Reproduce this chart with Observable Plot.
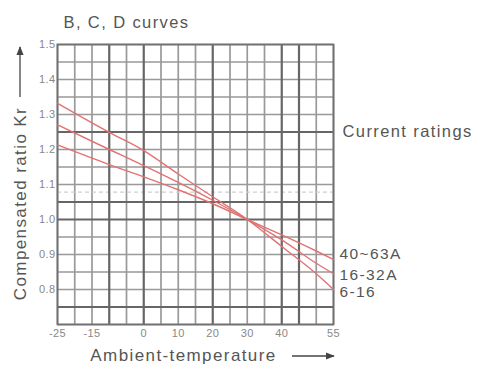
<!DOCTYPE html>
<html>
<head>
<meta charset="utf-8">
<script src="https://cdn.jsdelivr.net/npm/d3@7"></script>
<script src="https://cdn.jsdelivr.net/npm/@observablehq/plot@0.6"></script>
<style>
  html, body { margin: 0; padding: 0; background: #fff; }
  svg { font-family: "Liberation Sans", Arial, sans-serif; }
  svg g[aria-label="text"] text { letter-spacing: 1.4px; }
  svg g[aria-label="y-axis tick label"] text,
  svg g[aria-label="x-axis tick label"] text { letter-spacing: 0.4px; }
</style>
</head>
<body>
<div id="chart"></div>
<script>
// Data
const temps   = [-25, -10, 0, 10, 20, 30, 40, 50, 55];
const kr6_16  = [1.332, 1.249, 1.197, 1.130, 1.065, 1.000, 0.923, 0.845, 0.800];
const kr16_32 = [1.271, 1.200, 1.154, 1.106, 1.055, 1.000, 0.942, 0.875, 0.845];
const kr40_63 = [1.213, 1.157, 1.122, 1.085, 1.045, 1.000, 0.956, 0.910, 0.886];
const seriesNames = ["40~63A", "16-32A", "6-16"];

const xTicks = [-25, -15, 0, 10, 20, 30, 40, 55];
const yTicks = [0.8, 0.9, 1.0, 1.1, 1.2, 1.3, 1.4, 1.5];
const gridX = d3.range(-25, 56, 5);
const gridY = d3.range(0.7, 1.5001, 0.05).map(v => +v.toFixed(2));
const darkX = [-10, 0, 20, 40, 45];
const darkY = [1.25, 1.05, 1.0, 0.75];
const refLine = [1.078];

const title = "B, C, D curves";
const legendTitle = "Current ratings";
const yLabel = "Compensated ratio Kr";
const xLabel = "Ambient-temperature";

const seriesVals = [kr40_63, kr16_32, kr6_16];
const data = seriesNames.flatMap((s, j) => temps.map((t, i) => ({t, k: seriesVals[j][i], s})));
const lastOf = s => data.filter(d => d.s === s).slice(-1);

const red = "#e27272";
const textCol = "#555";

const plot = Plot.plot({
  width: 481,
  height: 365,
  marginLeft: 57,
  marginRight: 148,
  marginTop: 44,
  marginBottom: 41,
  style: {background: "#fff", fontFamily: "Liberation Sans, Arial, sans-serif"},
  x: {domain: [-25, 55], ticks: xTicks, tickSize: 0, tickPadding: 5, tickFormat: d => String(d), label: null},
  y: {domain: [0.7, 1.5], ticks: yTicks, tickSize: 0, tickPadding: 2, tickFormat: d3.format(".1f"), label: null},
  marks: [
    Plot.ruleX(gridX.filter(v => !darkX.includes(v)), {stroke: "#999", strokeWidth: 1.7}),
    Plot.ruleY(gridY.filter(v => !darkY.includes(v)), {stroke: "#999", strokeWidth: 1.7}),
    Plot.ruleY(refLine, {stroke: "#d0d0d0", strokeWidth: 1.3, strokeDasharray: "4,3"}),
    Plot.ruleX(darkX, {stroke: "#666", strokeWidth: 2.2}),
    Plot.ruleY(darkY, {stroke: "#666", strokeWidth: 2.2}),
    Plot.frame({stroke: "#707070", strokeWidth: 1.8}),
    Plot.line(data, {x: "t", y: "k", z: "s", stroke: red, strokeWidth: 1.4, curve: "monotone-x"}),
    Plot.text(lastOf("40~63A"), {x: "t", y: "k", text: "s", dx: 6, dy: -5, textAnchor: "start", fontSize: 15.5, fill: textCol}),
    Plot.text(lastOf("16-32A"), {x: "t", y: "k", text: "s", dx: 6, dy: 1, textAnchor: "start", fontSize: 15.5, fill: textCol}),
    Plot.text(lastOf("6-16"), {x: "t", y: "k", text: "s", dx: 6, dy: 3, textAnchor: "start", fontSize: 15.5, fill: textCol}),
    Plot.text([title], {frameAnchor: "top-left", dx: 6, dy: -22, textAnchor: "start", lineAnchor: "middle", fontSize: 16.5, fill: textCol}),
    Plot.text([legendTitle], {frameAnchor: "top-right", dx: 9, dy: 87, textAnchor: "start", lineAnchor: "middle", fontSize: 16.5, fill: textCol}),
    Plot.text([yLabel], {frameAnchor: "left", dx: -37, dy: 19, rotate: -90, textAnchor: "middle", lineAnchor: "middle", fontSize: 17, fill: textCol}),
    Plot.text([xLabel], {frameAnchor: "bottom-left", dx: 126, dy: 31, textAnchor: "middle", lineAnchor: "middle", fontSize: 17, fill: textCol}),
    Plot.axisX({ticks: xTicks, tickSize: 0, tickPadding: 5, fontSize: 11, fill: "#888", tickFormat: d => String(d), label: null}),
    Plot.axisY({ticks: yTicks, tickSize: 0, tickPadding: 2, fontSize: 11, fill: "#888", tickFormat: d3.format(".1f"), label: null})
  ]
});

// Decorative axis-label arrows
const svg = d3.select(plot);
const defs = svg.append("defs");
defs.append("marker").attr("id", "ah").attr("viewBox", "0 0 10 10").attr("refX", 9).attr("refY", 5)
  .attr("markerWidth", 7).attr("markerHeight", 7).attr("orient", "auto-start-reverse")
  .append("path").attr("d", "M0,1 L10,5 L0,9 z").attr("fill", "#444");
svg.append("line").attr("x1", 20).attr("y1", 97).attr("x2", 20).attr("y2", 47)
  .attr("stroke", "#444").attr("stroke-width", 1.3).attr("marker-end", "url(#ah)");
svg.append("line").attr("x1", 292).attr("y1", 356).attr("x2", 334).attr("y2", 356)
  .attr("stroke", "#444").attr("stroke-width", 1.3).attr("marker-end", "url(#ah)");

document.getElementById("chart").appendChild(plot);
</script>
</body>
</html>
